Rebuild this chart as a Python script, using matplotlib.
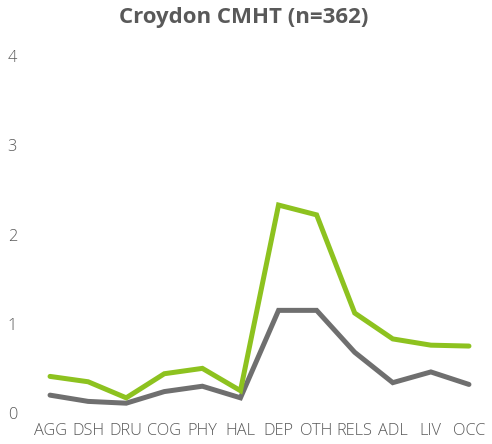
import matplotlib
matplotlib.use("Agg")
import matplotlib.pyplot as plt

categories = ["AGG", "DSH", "DRU", "COG", "PHY", "HAL", "DEP", "OTH", "RELS", "ADL", "LIV", "OCC"]
green_values = [0.41, 0.35, 0.17, 0.44, 0.50, 0.25, 2.33, 2.22, 1.12, 0.83, 0.76, 0.75]
gray_values = [0.20, 0.13, 0.11, 0.24, 0.30, 0.17, 1.15, 1.15, 0.68, 0.34, 0.46, 0.32]
yticks = [0, 1, 2, 3, 4]
title = "Croydon CMHT (n=362)"

plt.rcParams['font.family'] = ['Open Sans', 'DejaVu Sans']
txt = "#595959"

fig = plt.figure(figsize=(4.92, 4.44), dpi=100)
W, H = 492, 444
left, right, bottom, top = 31, 488, 444 - 413, 444 - 56
ax = fig.add_axes([left / W, bottom / H, (right - left) / W, (top - bottom) / H])

x = list(range(len(categories)))
ax.plot(x, gray_values, color="#6f6f6f", lw=3.6, solid_joinstyle="miter", solid_capstyle="round", zorder=2)
ax.plot(x, green_values, color="#8dc21f", lw=3.6, solid_joinstyle="miter", solid_capstyle="round", zorder=3)

ax.set_xlim(-0.5, len(categories) - 0.5)
ax.set_ylim(0, 4)
ax.set_yticks(yticks)
ax.set_xticks(x)
ax.set_xticklabels(categories)
for s in ax.spines.values():
    s.set_visible(False)
ax.tick_params(axis="both", length=0, labelsize=11.8, labelcolor=txt)
ax.tick_params(axis="x", pad=7)
ax.tick_params(axis="y", pad=10)
for lab in ax.get_yticklabels():
    lab.set_horizontalalignment("right")
for lab in ax.get_xticklabels() + ax.get_yticklabels():
    lab.set_fontweight("light")

fig.text(244 / W, 1 - 18 / H, title, ha="center", va="center", fontsize=16, fontweight="bold",
         color=txt)

fig.savefig("out.png", dpi=100)
